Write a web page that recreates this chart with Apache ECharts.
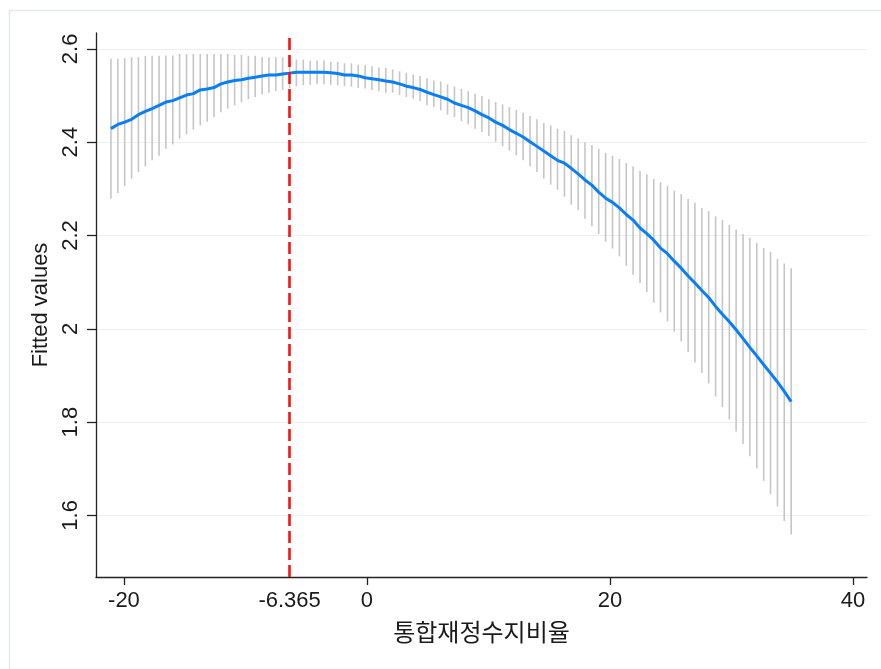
<!DOCTYPE html>
<html>
<head>
<meta charset="utf-8">
<script src="https://cdn.jsdelivr.net/npm/echarts@6/dist/echarts.min.js"></script>
<style>
html,body{margin:0;padding:0;background:#fff;}
#chart{width:881px;height:669px;}
</style>
</head>
<body>
<div id="chart"></div>
<script>
// x values of each evaluated point
const xValues = [-21.07,-20.50,-19.94,-19.37,-18.81,-18.24,-17.68,-17.11,-16.55,-15.98,
-15.42,-14.85,-14.29,-13.72,-13.15,-12.59,-12.02,-11.46,-10.89,-10.33,
-9.76,-9.20,-8.63,-8.07,-7.50,-6.94,-6.37,-5.81,-5.24,-4.67,
-4.11,-3.54,-2.98,-2.41,-1.85,-1.28,-0.72,-0.15,0.41,0.98,
1.55,2.11,2.68,3.24,3.81,4.37,4.94,5.50,6.07,6.63,
7.20,7.77,8.33,8.90,9.46,10.03,10.59,11.16,11.72,12.29,
12.85,13.42,13.99,14.55,15.12,15.68,16.25,16.81,17.38,17.94,
18.51,19.07,19.64,20.21,20.77,21.34,21.90,22.47,23.03,23.60,
24.16,24.73,25.29,25.86,26.43,26.99,27.56,28.12,28.69,29.25,
29.82,30.38,30.95,31.51,32.08,32.65,33.21,33.78,34.34,34.91];

// fitted values
const fitted = [2.429,2.438,2.443,2.449,2.459,2.466,2.472,2.479,2.486,2.489,
2.495,2.501,2.504,2.512,2.514,2.517,2.525,2.529,2.532,2.534,
2.537,2.539,2.542,2.544,2.544,2.546,2.548,2.550,2.550,2.550,
2.550,2.550,2.549,2.547,2.544,2.544,2.542,2.538,2.536,2.534,
2.531,2.529,2.525,2.520,2.517,2.513,2.507,2.502,2.497,2.492,
2.484,2.479,2.474,2.467,2.459,2.452,2.443,2.436,2.427,2.419,
2.411,2.401,2.391,2.381,2.371,2.361,2.355,2.344,2.332,2.319,
2.308,2.293,2.280,2.271,2.259,2.245,2.233,2.216,2.204,2.190,
2.173,2.161,2.145,2.130,2.113,2.098,2.082,2.067,2.048,2.031,
2.015,1.998,1.979,1.960,1.942,1.923,1.905,1.886,1.866,1.844];

// lower confidence bound
const lower = [2.279,2.291,2.306,2.322,2.336,2.348,2.361,2.371,2.386,2.395,
2.407,2.417,2.427,2.436,2.444,2.454,2.464,2.472,2.479,2.486,
2.492,2.497,2.502,2.506,2.509,2.512,2.516,2.520,2.522,2.523,
2.525,2.524,2.523,2.522,2.520,2.519,2.516,2.515,2.512,2.509,
2.506,2.506,2.501,2.497,2.493,2.488,2.479,2.475,2.468,2.459,
2.454,2.445,2.438,2.429,2.422,2.413,2.401,2.391,2.382,2.372,
2.361,2.348,2.336,2.322,2.309,2.298,2.283,2.266,2.254,2.236,
2.220,2.203,2.187,2.172,2.155,2.135,2.116,2.098,2.079,2.056,
2.035,2.016,1.994,1.973,1.950,1.928,1.905,1.883,1.855,1.832,
1.806,1.780,1.753,1.727,1.701,1.674,1.646,1.619,1.588,1.559];

// upper confidence bound
const upper = [2.579,2.579,2.580,2.582,2.582,2.585,2.585,2.585,2.586,2.586,
2.589,2.589,2.589,2.589,2.589,2.589,2.589,2.589,2.587,2.587,
2.585,2.585,2.582,2.582,2.582,2.582,2.580,2.577,2.577,2.575,
2.575,2.575,2.572,2.572,2.569,2.569,2.566,2.565,2.563,2.560,
2.559,2.556,2.552,2.549,2.545,2.542,2.537,2.532,2.530,2.524,
2.519,2.514,2.509,2.504,2.499,2.492,2.486,2.481,2.475,2.469,
2.463,2.456,2.449,2.441,2.436,2.429,2.424,2.415,2.408,2.400,
2.394,2.386,2.377,2.371,2.364,2.355,2.348,2.338,2.331,2.321,
2.314,2.306,2.296,2.289,2.278,2.270,2.259,2.252,2.241,2.233,
2.223,2.213,2.203,2.195,2.184,2.173,2.165,2.150,2.140,2.130];

const xTickValues = [-20, 0, 20, 40];
const xLabelValues = [-20, -6.365, 0, 20, 40];
const yTickValues = [1.6, 1.8, 2, 2.2, 2.4, 2.6];
const turningPoint = -6.365;

const xTitle = '통합재정수지비율';
const yTitle = 'Fitted values';

const fitData = xValues.map((x, i) => [x, fitted[i]]);
const ciData = xValues.map((x, i) => [x, lower[i], upper[i]]);

const chart = echarts.init(document.getElementById('chart'), null, {renderer: 'canvas'});
const latin = '"Liberation Sans", Arial, sans-serif';

chart.setOption({
  animation: false,
  backgroundColor: '#ffffff',
  graphic: [{
    type: 'rect', silent: true, z: -10,
    shape: {x: 9.5, y: 10.5, width: 900, height: 700},
    style: {fill: 'none', stroke: '#e2e9ec', lineWidth: 1.5}
  }],
  grid: {left: 96, right: 14, top: 33, bottom: 92, containLabel: false},
  xAxis: {
    type: 'value', min: -22.3, max: 41.15,
    name: xTitle, nameLocation: 'middle', nameGap: 43,
    nameTextStyle: {fontFamily: '"Noto Sans CJK KR", sans-serif', fontSize: 24, color: '#1a1a1a'},
    axisLine: {show: true, onZero: false, lineStyle: {color: '#222', width: 1.3}},
    axisTick: {show: true, length: 8, customValues: xTickValues, lineStyle: {color: '#222', width: 1.3}},
    axisLabel: {customValues: xLabelValues, margin: 13, fontFamily: latin, fontSize: 22, color: '#1a1a1a',
      formatter: v => String(v)},
    splitLine: {show: false}
  },
  yAxis: {
    type: 'value', min: 1.468, max: 2.634,
    name: yTitle, nameLocation: 'middle', nameGap: 42, nameRotate: 90,
    nameTextStyle: {fontFamily: latin, fontSize: 22, color: '#1a1a1a'},
    axisLine: {show: true, onZero: false, lineStyle: {color: '#222', width: 1.3}},
    axisTick: {show: true, length: 9, customValues: yTickValues, lineStyle: {color: '#222', width: 1.3}},
    axisLabel: {customValues: yTickValues, rotate: 90, margin: 14, fontFamily: latin, fontSize: 22, color: '#1a1a1a',
      formatter: v => String(v)},
    splitLine: {show: false}
  },
  series: [
    {
      type: 'line', data: [], silent: true, z: 0,
      markLine: {
        silent: true, z: 0, symbol: ['none', 'none'], animation: false,
        label: {show: false},
        lineStyle: {color: '#eaf0f0', width: 1.2, type: 'solid'},
        data: yTickValues.map(v => ({yAxis: v}))
      }
    },
    {
      type: 'custom', z: 2, silent: true,
      data: ciData,
      encode: {x: 0, y: [1, 2]},
      renderItem: function (params, api) {
        const p1 = api.coord([api.value(0), api.value(1)]);
        const p2 = api.coord([api.value(0), api.value(2)]);
        return {
          type: 'line',
          shape: {x1: p1[0], y1: p1[1], x2: p2[0], y2: p2[1]},
          style: {stroke: '#c6c6c6', lineWidth: 1.6}
        };
      }
    },
    {
      type: 'line', z: 3, silent: true,
      data: fitData, showSymbol: false, symbol: 'none',
      lineStyle: {color: '#0a7ff5', width: 3}
    },
    {
      type: 'line', data: [], silent: true, z: 5,
      markLine: {
        silent: true, z: 6, symbol: ['none', 'none'], animation: false,
        label: {show: false},
        lineStyle: {color: '#ff1010', width: 2.6, type: [12, 5]},
        data: [{xAxis: turningPoint}]
      }
    }
  ]
});
</script>
</body>
</html>
